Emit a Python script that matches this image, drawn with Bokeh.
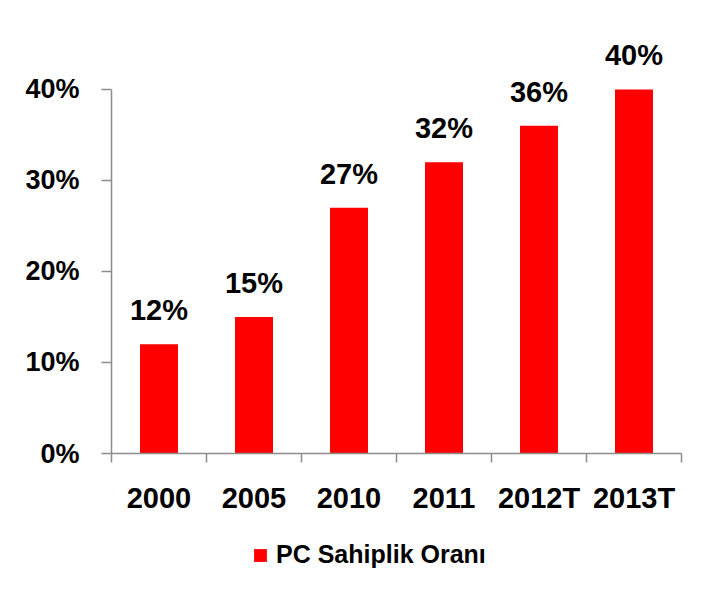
from bokeh.plotting import figure
from bokeh.layouts import column
from bokeh.models import Range1d, FixedTicker, LinearAxis, Legend, LegendItem, ColumnDataSource
from bokeh.core.properties import value
from bokeh.embed import file_html
from bokeh.resources import INLINE

categories = ["2000", "2005", "2010", "2011", "2012T", "2013T"]
ownership = [0.12, 0.15, 0.27, 0.32, 0.36, 0.40]
y_ticks = [0.0, 0.1, 0.2, 0.3, 0.4]
y_tick_labels = ["0%", "10%", "20%", "30%", "40%"]
series_name = "PC Sahiplik Oranı"

FONT = "Liberation Sans"
RED = "#FF0000"
AXIS_GREY = "#8C8C8C"

xs = [i + 0.5 for i in range(len(categories))]
src = ColumnDataSource(dict(
    x=xs, top=ownership, cat=categories,
    lbl=[f"{round(v * 100)}%" for v in ownership],
))

p = figure(width=711, height=530, output_backend="svg", toolbar_location=None,
           x_range=Range1d(0, len(categories)), y_range=Range1d(0, 0.4538),
           min_border_left=111, min_border_right=30, min_border_top=40,
           min_border_bottom=77, x_axis_type=None, y_axis_type=None)
p.outline_line_color = None
p.grid.visible = False
p.background_fill_color = "white"
p.border_fill_color = "white"

bars = p.vbar(x="x", top="top", width=0.4, bottom=0, source=src,
              fill_color=RED, line_color=None)

p.text(x="x", y="top", text="lbl", source=src, text_align="center",
       text_baseline="bottom", y_offset=-18, text_font=value(FONT),
       text_font_size="29px", text_font_style="bold", text_color="black")

# y axis
yax = LinearAxis(ticker=FixedTicker(ticks=y_ticks, minor_ticks=[]), bounds=(0, 0.4))
yax.major_label_overrides = {t: l for t, l in zip(y_ticks, y_tick_labels)}
yax.axis_line_color = AXIS_GREY
yax.axis_line_width = 1.5
yax.major_tick_line_color = AXIS_GREY
yax.major_tick_line_width = 1.5
yax.major_tick_in = 0
yax.major_tick_out = 10
yax.major_label_standoff = 22
yax.major_label_text_font = FONT
yax.major_label_text_font_size = "27px"
yax.major_label_text_font_style = "bold"
yax.major_label_text_color = "black"
p.add_layout(yax, "left")

# x axis: labels at category centres, ticks at category boundaries
xax = LinearAxis(ticker=FixedTicker(ticks=xs,
                                    minor_ticks=list(range(len(categories) + 1))))
xax.major_label_overrides = {x: c for x, c in zip(xs, categories)}
xax.axis_line_color = AXIS_GREY
xax.axis_line_width = 1.5
xax.major_tick_line_color = None
xax.major_tick_in = 0
xax.major_tick_out = 0
xax.minor_tick_line_color = AXIS_GREY
xax.minor_tick_line_width = 1.5
xax.minor_tick_in = 0
xax.minor_tick_out = 9
xax.major_label_standoff = 19
xax.major_label_text_font = FONT
xax.major_label_text_font_size = "29px"
xax.major_label_text_font_style = "bold"
xax.major_label_text_color = "black"
p.add_layout(xax, "below")

# legend strip (the series renderer is repeated here out of view, only for its swatch)
pl = figure(width=711, height=66, output_backend="svg", toolbar_location=None,
            x_range=Range1d(100, 101), y_range=Range1d(100, 101),
            min_border=0, x_axis_type=None, y_axis_type=None)
pl.outline_line_color = None
pl.grid.visible = False
pl.border_fill_color = "white"
swatch = pl.vbar(x="x", top="top", width=0.4, bottom=0, source=src,
                 fill_color=RED, line_color=None)
legend = Legend(items=[LegendItem(label=series_name, renderers=[swatch])],
                location=(141, 27), orientation="horizontal",
                glyph_width=16, glyph_height=16, label_standoff=8,
                padding=0, margin=0, border_line_color=None,
                background_fill_alpha=0,
                label_text_font=FONT, label_text_font_size="25px",
                label_text_font_style="bold",
                label_text_color="black")
pl.add_layout(legend, "center")

layout = column(p, pl, spacing=0)
open("out.html", "w").write(file_html(layout, INLINE))
